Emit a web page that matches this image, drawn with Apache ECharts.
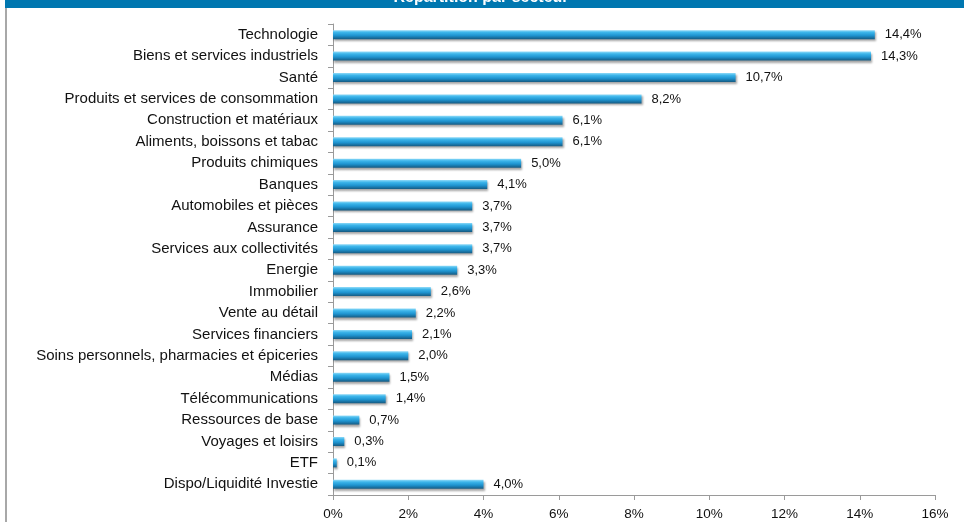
<!DOCTYPE html>
<html>
<head>
<meta charset="utf-8">
<script src="https://cdn.jsdelivr.net/npm/echarts@6/dist/echarts.min.js"></script>
<style>html,body{margin:0;padding:0;background:#fff;}#c{width:964px;height:522px;}</style>
</head>
<body>
<div id="c"></div>
<script>
const chartTitle = 'Répartition par secteur';
const categories = ['Technologie','Biens et services industriels','Santé','Produits et services de consommation','Construction et matériaux','Aliments, boissons et tabac','Produits chimiques','Banques','Automobiles et pièces','Assurance','Services aux collectivités','Energie','Immobilier','Vente au détail','Services financiers','Soins personnels, pharmacies et épiceries','Médias','Télécommunications','Ressources de base','Voyages et loisirs','ETF','Dispo/Liquidité Investie'];
const values = [14.4,14.3,10.7,8.2,6.1,6.1,5.0,4.1,3.7,3.7,3.7,3.3,2.6,2.2,2.1,2.0,1.5,1.4,0.7,0.3,0.1,4.0];
const xTicks = [0,2,4,6,8,10,12,14,16];

const fmt = v => v.toFixed(1).replace('.', ',') + '%';
const chart = echarts.init(document.getElementById('c'), null, {renderer:'canvas'});
chart.setOption({
  animation:false,
  backgroundColor:'#fff',
  grid:{left:333,right:29,top:24,bottom:27,containLabel:false},
  xAxis:{type:'value',min:xTicks[0],max:xTicks[xTicks.length-1],interval:2,
    axisLine:{show:true,lineStyle:{color:'#9a9a9a',width:1}},
    axisTick:{show:true,length:5,lineStyle:{color:'#9a9a9a'}},
    splitLine:{show:false},
    axisLabel:{formatter:v=>v+'%',fontFamily:'Liberation Sans, Arial',fontSize:13.5,color:'#111',margin:12}},
  yAxis:{type:'category',data:categories,inverse:true,
    axisLine:{show:true,lineStyle:{color:'#9a9a9a',width:1}},
    axisTick:{show:true,length:5,inside:false,lineStyle:{color:'#9a9a9a'}},
    axisLabel:{fontFamily:'Liberation Sans, Arial',fontSize:15,color:'#111',margin:15}},
  series:[{type:'bar',data:values,barWidth:9,
    itemStyle:{
      color:new echarts.graphic.LinearGradient(0,0,0,1,[
        {offset:0,color:'#8fdaf8'},{offset:0.25,color:'#3cb5ea'},
        {offset:0.6,color:'#1e93cf'},{offset:1,color:'#155a82'}]),
      shadowColor:'rgba(0,0,0,0.35)',shadowBlur:2,shadowOffsetX:1,shadowOffsetY:2},
    label:{show:true,position:'right',distance:10,formatter:p=>fmt(p.value),
      fontFamily:'Liberation Sans, Arial',fontSize:13,color:'#111'}}],
  graphic:[
    {type:'rect',left:5,top:0,shape:{width:959,height:8},style:{fill:'#0077b0'},silent:true},
    {type:'rect',left:5,top:8,shape:{width:2,height:514},style:{fill:'#a8a8a8'},silent:true},
    {type:'text',x:481,y:-2,style:{text:chartTitle,fill:'#fff',font:'bold 16px "Liberation Sans", Arial',align:'center',verticalAlign:'middle'},z:10}
  ]
});
</script>
</body>
</html>
